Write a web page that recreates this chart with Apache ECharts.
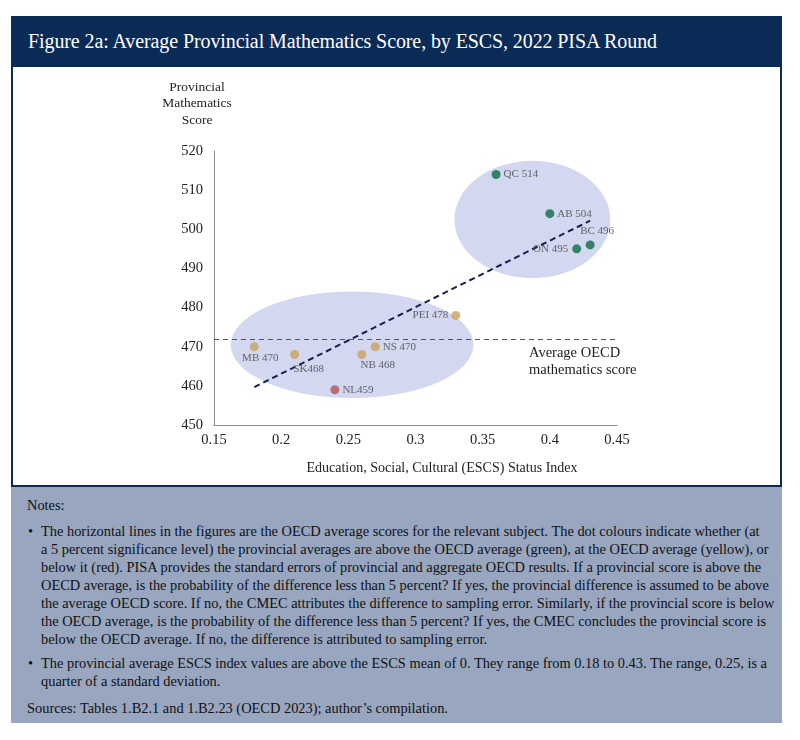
<!DOCTYPE html>
<html>
<head>
<meta charset="utf-8">
<script src="https://cdn.jsdelivr.net/npm/echarts@6/dist/echarts.min.js"></script>
<style>
  body { margin: 0; background: #fff; font-family: "Liberation Serif", serif; }
  #page { position: relative; width: 800px; height: 740px; }
  #head { position: absolute; left: 11px; top: 16px; width: 771px; height: 51px; background: #0b2b57; }
  #head span { position: absolute; left: 17px; top: 14px; color: #fff; font-size: 20px; letter-spacing: -0.1px; white-space: nowrap; }
  #frame { position: absolute; left: 11px; top: 67px; width: 767px; height: 418px; border: 2px solid #0b2b57; border-top: none; background: #fff; }
  #notes { position: absolute; left: 11px; top: 487px; width: 771px; height: 236px; background: #98a6c0; color: #111; font-size: 14.4px; line-height: 18px; }
  #notes .l { position: absolute; white-space: nowrap; }
  #chart { position: absolute; left: 0; top: 0; width: 800px; height: 740px; }
</style>
</head>
<body>
<div id="page">
  <div id="head"><span>Figure 2a: Average Provincial Mathematics Score, by ESCS, 2022 PISA Round</span></div>
  <div id="frame"></div>
  <div id="notes">
    <div class="l" style="left:16px;top:9px;">Notes:</div>
    <div class="l" style="left:17px;top:35px;">•</div>
    <div class="l" style="left:30px;top:35px;">The horizontal lines in the figures are the OECD average scores for the relevant subject. The dot colours indicate whether (at<br>a 5 percent significance level) the provincial averages are above the OECD average (green), at the OECD average (yellow), or<br>below it (red). PISA provides the standard errors of provincial and aggregate OECD results. If a provincial score is above the<br>OECD average, is the probability of the difference less than 5 percent? If yes, the provincial difference is assumed to be above<br>the average OECD score. If no, the CMEC attributes the difference to sampling error. Similarly, if the provincial score is below<br>the OECD average, is the probability of the difference less than 5 percent? If yes, the CMEC concludes the provincial score is<br>below the OECD average. If no, the difference is attributed to sampling error.</div>
    <div class="l" style="left:17px;top:167px;">•</div>
    <div class="l" style="left:30px;top:167px;">The provincial average ESCS index values are above the ESCS mean of 0. They range from 0.18 to 0.43. The range, 0.25, is a<br>quarter of a standard deviation.</div>
    <div class="l" style="left:16px;top:212px;">Sources: Tables 1.B2.1 and 1.B2.23 (OECD 2023); author’s compilation.</div>
  </div>
  <div id="chart"></div>
</div>
<script>
// provinces, ESCS index and maths score
const provinces = ['QC', 'AB', 'ON', 'BC', 'PEI', 'MB', 'SK', 'NB', 'NS', 'NL'];
const escs = [0.36, 0.40, 0.42, 0.43, 0.33, 0.18, 0.21, 0.26, 0.27, 0.24];
const scores = [514, 504, 495, 496, 478, 470, 468, 468, 470, 459];
const pointLabels = ['QC 514', 'AB 504', 'ON 495', 'BC 496', 'PEI 478', 'MB 470', 'SK468', 'NB 468', 'NS 470', 'NL459'];
// above / at / below the OECD average
const status = ['above', 'above', 'above', 'above', 'at', 'at', 'at', 'at', 'at', 'below'];
const oecdAverage = 472;
// dashed trend line end points
const trendX = [0.18, 0.43];
const trendY = [459.7, 502.2];
// shaded groups: centre x, centre y, radius x, radius y
const groupCentreX = [0.2528, 0.387];
const groupCentreY = [470.5, 502.5];
const groupRadiusX = [0.0903, 0.058];
const groupRadiusY = [13.6, 15];
const xTicks = { min: 0.15, max: 0.45, step: 0.05 };
const yTicks = { min: 450, max: 520, step: 10 };

const statusColor = { above: '#0b6b44', at: '#c9a25e', below: '#b4525b' };
const serif = '"Liberation Serif", serif';

// label placement per point
const labelPos = {
  QC: { position: 'right', distance: 3 },
  AB: { position: 'right', distance: 3 },
  ON: { position: 'left', distance: 4 },
  BC: { position: 'top', distance: 4, offset: [7, 0] },
  PEI: { position: 'left', distance: 3 },
  MB: { position: 'bottom', distance: 1, offset: [6, 0] },
  SK: { position: 'bottom', distance: 5, offset: [14, 0] },
  NB: { position: 'bottom', distance: 1, offset: [16, 0] },
  NS: { position: 'right', distance: 3 },
  NL: { position: 'right', distance: 3 }
};

let points = [];
for (let i = 0; i < provinces.length; i++) {
  let p = labelPos[provinces[i]];
  points.push({
    name: provinces[i],
    value: [escs[i], scores[i]],
    itemStyle: { color: statusColor[status[i]] },
    label: Object.assign({ show: true, formatter: pointLabels[i], fontFamily: serif, fontSize: 11, color: '#444' }, p)
  });
}

let groups = [];
for (let i = 0; i < groupCentreX.length; i++) {
  groups.push([groupCentreX[i], groupCentreY[i], groupRadiusX[i], groupRadiusY[i]]);
}

let chart = echarts.init(document.getElementById('chart'), null, { renderer: 'canvas' });
let option = {
  animation: false,
  backgroundColor: 'transparent',
  grid: { left: 214, right: 183, top: 151, bottom: 315 },
  xAxis: {
    type: 'value', min: xTicks.min, max: xTicks.max, interval: xTicks.step,
    axisLine: { show: true, lineStyle: { color: '#8a8a8a', width: 1 } },
    axisTick: { show: false },
    splitLine: { show: false },
    axisLabel: { fontFamily: serif, fontSize: 14.5, color: '#222', margin: 8 }
  },
  yAxis: {
    type: 'value', min: yTicks.min, max: yTicks.max, interval: yTicks.step,
    axisLine: { show: true, lineStyle: { color: '#8a8a8a', width: 1 } },
    axisTick: { show: false },
    splitLine: { show: false },
    axisLabel: { fontFamily: serif, fontSize: 14.5, color: '#222', margin: 11 }
  },
  graphic: [
    { type: 'text', x: 197, y: 79, style: { text: 'Provincial\nMathematics\nScore', align: 'center', verticalAlign: 'top', fontFamily: serif, fontSize: 13.5, lineHeight: 16.5, fill: '#222' } },
    { type: 'text', x: 442, y: 468, style: { text: 'Education, Social, Cultural (ESCS) Status Index', align: 'center', verticalAlign: 'middle', fontFamily: serif, fontSize: 14, fill: '#222' } },
    { type: 'text', x: 529, y: 345, style: { text: 'Average OECD\nmathematics score', align: 'left', verticalAlign: 'top', fontFamily: serif, fontSize: 14.5, lineHeight: 17, fill: '#222' } }
  ],
  series: [
    {
      type: 'custom',
      z: 1,
      silent: true,
      data: groups,
      renderItem: function (params, api) {
        let c = api.coord([api.value(0), api.value(1)]);
        let s = api.size([api.value(2), api.value(3)]);
        return {
          type: 'circle',
          x: c[0], y: c[1],
          scaleX: 1, scaleY: s[1] / s[0],
          shape: { cx: 0, cy: 0, r: s[0] },
          style: { fill: '#d3d7ef' }
        };
      }
    },
    {
      type: 'line',
      z: 3,
      data: [[trendX[0], trendY[0]], [trendX[1], trendY[1]]],
      symbol: 'none',
      lineStyle: { color: '#14214d', width: 2, type: [6, 4] },
      markLine: {
        silent: true,
        symbol: 'none',
        label: { show: false },
        lineStyle: { color: '#555', width: 1.2, type: [5, 4] },
        data: [{ yAxis: oecdAverage }]
      }
    },
    {
      type: 'scatter',
      z: 5,
      symbolSize: 9,
      data: points
    }
  ]
};
chart.setOption(option);
</script>
</body>
</html>
